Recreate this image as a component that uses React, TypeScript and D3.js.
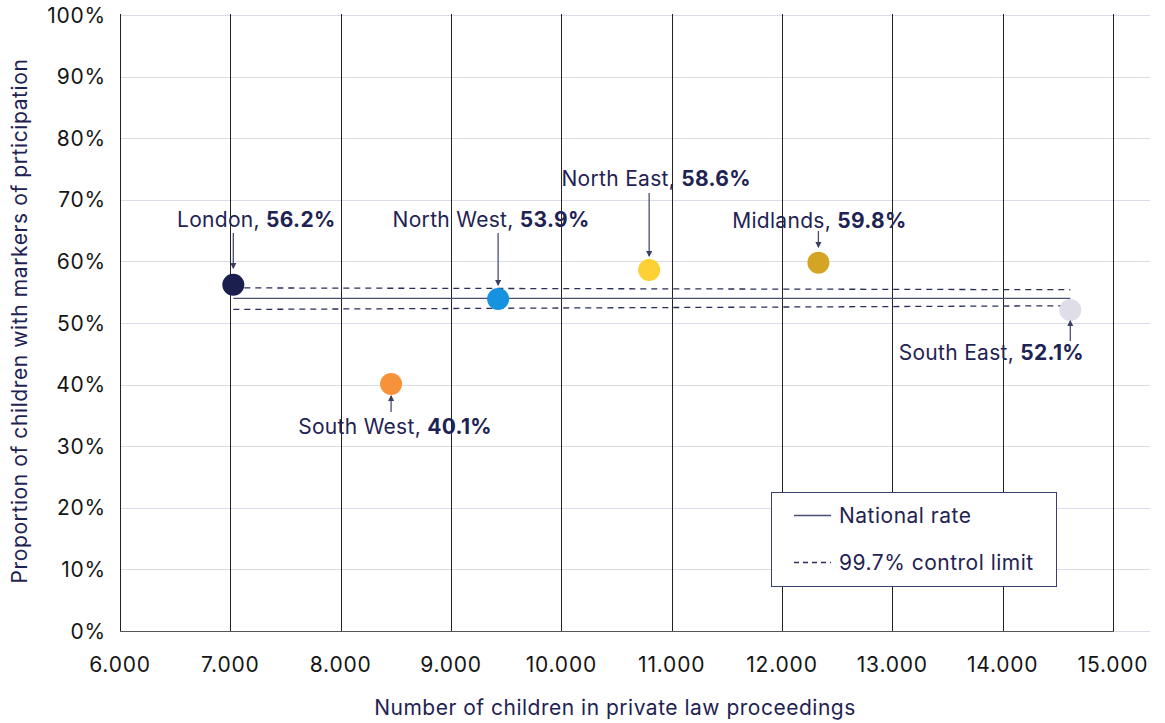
import React from "react";
import * as d3 from "d3";

const regions = ["London", "North West", "South West", "North East", "Midlands", "South East"];
const childrenCounts = [7027, 9427, 8457, 10796, 12330, 14613];
const participationRates = [56.2, 53.9, 40.1, 58.6, 59.8, 52.1];
const pointColors = ["#1a1f4e", "#1593e0", "#f7923a", "#fdd033", "#d4a524", "#dedde8"];

const nationalRate = 54.0;
const limitX = [7027, 14613];
const upperLimit = [55.7, 55.4];
const lowerLimit = [52.2, 52.8];

const xTicks = [6000, 7000, 8000, 9000, 10000, 11000, 12000, 13000, 14000, 15000];
const yTicks = [0, 10, 20, 30, 40, 50, 60, 70, 80, 90, 100];

const W = 1165;
const H = 723;
const FONT = "Inter, 'Noto Sans', sans-serif";
const NAVY = "#1f2353";

export default function App() {
  const x = d3.scaleLinear().domain([6000, 15000]).range([120, 1113]);
  const y = d3.scaleLinear().domain([0, 100]).range([631, 15]);
  const fmtX = (v: number) => d3.format(",")(v).replace(",", ".");

  const labelCfg = [
    { dx: 23, base: 227, a0: 233, a1: 268 },
    { dx: -7, base: 227, a0: 233, a1: 285 },
    { dx: 4, base: 434, a0: 412, a1: 396 },
    { dx: 7, base: 186, a0: 193, a1: 256 },
    { dx: 1, base: 228, a0: 231, a1: 247 },
    { dx: -79, base: 360, a0: 341, a1: 321 },
  ];

  const line = d3.line<[number, number]>().x((d) => x(d[0])).y((d) => y(d[1]));

  return (
    <svg width={W} height={H} style={{ position: "absolute", left: 0, top: 0, fontFamily: FONT }}>
      <defs>
        <marker id="arr" viewBox="0 0 6 6" refX="5" refY="3" markerWidth="5" markerHeight="5" orient="auto">
          <path d="M0,0 L6,3 L0,6 Z" fill="#3a3e64" />
        </marker>
      </defs>
      <rect width={W} height={H} fill="#fff" />
      {yTicks.map((t) => (
        <line key={"hy" + t} x1={120} x2={1150} y1={Math.round(y(t)) + 0.5} y2={Math.round(y(t)) + 0.5} stroke="#dcdbe8" strokeWidth={1.2} />
      ))}
      {xTicks.map((t) => (
        <line key={"vx" + t} x1={Math.round(x(t)) + 0.5} x2={Math.round(x(t)) + 0.5} y1={14} y2={631} stroke="#222" strokeWidth={1} />
      ))}
      <line x1={120} x2={1114} y1={631.5} y2={631.5} stroke="#555" strokeWidth={1.2} />
      {yTicks.map((t) => (
        <text key={"yl" + t} x={106} y={y(t) + 7.5} textAnchor="end" fontSize={21} letterSpacing={0.8} fill="#151515">
          {t}%
        </text>
      ))}
      {xTicks.map((t) => (
        <text key={"xl" + t} x={x(t)} y={672} textAnchor="middle" fontSize={21} letterSpacing={0.8} fill="#151515">
          {fmtX(t)}
        </text>
      ))}
      <text x={615} y={715} textAnchor="middle" fontSize={21} letterSpacing={0.5} fill={NAVY}>
        Number of children in private law proceedings
      </text>
      <text transform={`translate(27,321) rotate(-90)`} textAnchor="middle" fontSize={21} letterSpacing={0.6} fill={NAVY}>
        Proportion of children with markers of prticipation
      </text>
      <path d={line([[limitX[0], nationalRate], [limitX[1], nationalRate]]) || ""} stroke="#4a4e75" strokeWidth={1.3} fill="none" />
      <path d={line([[limitX[0], upperLimit[0]], [limitX[1], upperLimit[1]]]) || ""} stroke="#2a2e5a" strokeWidth={1.3} strokeDasharray="6,5" fill="none" />
      <path d={line([[limitX[0], lowerLimit[0]], [limitX[1], lowerLimit[1]]]) || ""} stroke="#2a2e5a" strokeWidth={1.3} strokeDasharray="6,5" fill="none" />
      {regions.map((r, i) => (
        <circle key={"c" + r} cx={x(childrenCounts[i])} cy={y(participationRates[i])} r={11} fill={pointColors[i]} />
      ))}
      {regions.map((r, i) => {
        const px = x(childrenCounts[i]);
        const c = labelCfg[i];
        return (
          <g key={"l" + r}>
            <line x1={px} x2={px} y1={c.a0} y2={c.a1} stroke="#4a4e75" strokeWidth={1.3} markerEnd="url(#arr)" />
            <text x={px + c.dx} y={c.base} textAnchor="middle" fontSize={21} letterSpacing={0.3} fill={NAVY}>
              {r}, <tspan fontWeight={700}>{participationRates[i].toFixed(1)}%</tspan>
            </text>
          </g>
        );
      })}
      <rect x={771.5} y={492.5} width={285} height={94} fill="#fff" stroke="#3b3f6b" strokeWidth={1} />
      <line x1={794} x2={831} y1={515.5} y2={515.5} stroke="#4a4e75" strokeWidth={1.3} />
      <text x={839} y={523} fontSize={21} letterSpacing={0.5} fill={NAVY}>National rate</text>
      <line x1={794} x2={831} y1={562.5} y2={562.5} stroke="#2a2e5a" strokeWidth={1.3} strokeDasharray="5,4" />
      <text x={839} y={570} fontSize={21} letterSpacing={0.5} fill={NAVY}>99.7% control limit</text>
    </svg>
  );
}
